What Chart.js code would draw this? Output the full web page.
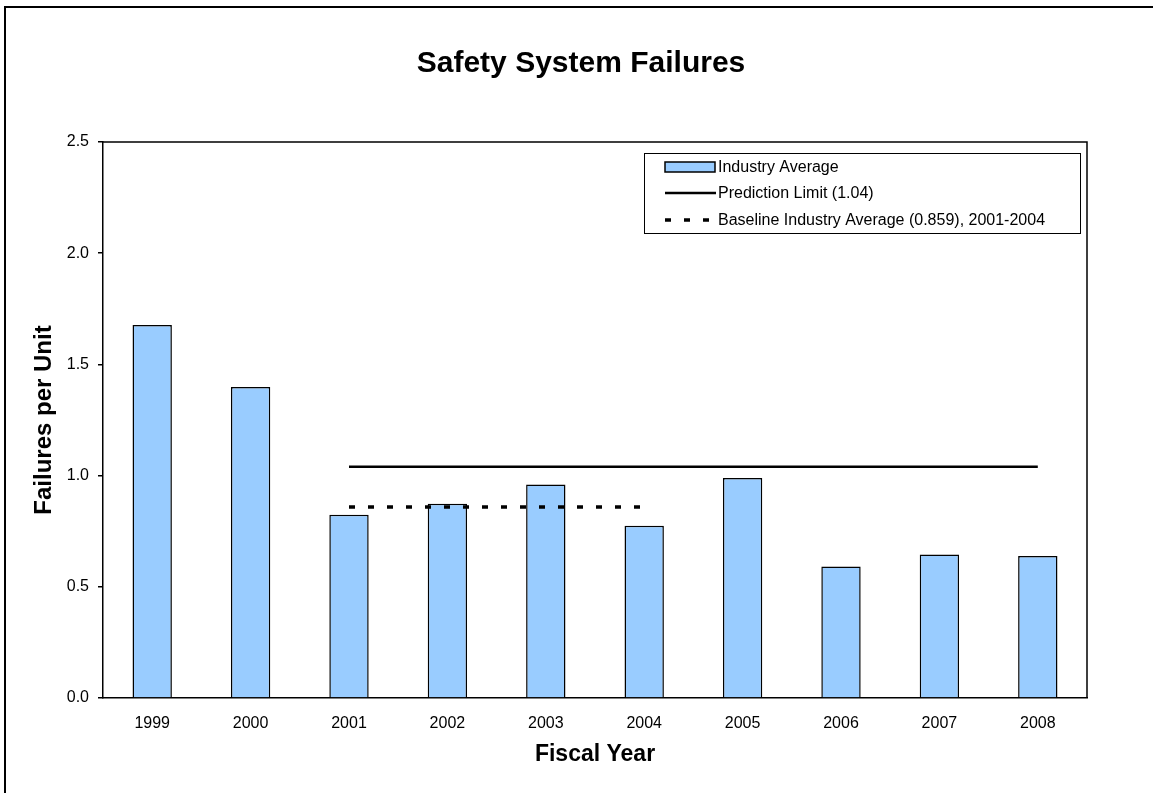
<!DOCTYPE html>
<html>
<head>
<meta charset="utf-8">
<title>Safety System Failures</title>
<script src="https://cdn.jsdelivr.net/npm/chart.js@4.4.1/dist/chart.umd.min.js"></script>
<style>
  html, body { margin: 0; padding: 0; background: #fff; }
  canvas { display: block; }
</style>
</head>
<body>
<canvas id="chart" width="1153" height="793"></canvas>
<script>
// data
const years = ['1999', '2000', '2001', '2002', '2003', '2004', '2005', '2006', '2007', '2008'];
const industryAverage = [1.677, 1.398, 0.824, 0.873, 0.960, 0.774, 0.989, 0.591, 0.645, 0.638];
const predictionLimit = [null, null, 1.04, 1.04, 1.04, 1.04, 1.04, 1.04, 1.04, 1.04];
const baselineAverage = [null, null, 0.859, 0.859, 0.859, 0.859, null, null, null, null];
const yTicks = [0, 0.5, 1.0, 1.5, 2.0, 2.5];

const FONT = "'Liberation Sans', Arial, sans-serif";

// outer frame, plot box and the boxed legend
const decorations = {
  id: 'decorations',
  beforeDraw(chart) {
    const ctx = chart.ctx;
    ctx.save();
    ctx.fillStyle = '#fff';
    ctx.fillRect(0, 0, chart.width, chart.height);
    ctx.strokeStyle = '#000';
    ctx.lineWidth = 2;
    ctx.beginPath();
    ctx.moveTo(5, chart.height);
    ctx.lineTo(5, 7);
    ctx.lineTo(chart.width, 7);
    ctx.stroke();
    ctx.restore();
  },
  afterDraw(chart) {
    const ctx = chart.ctx;
    const a = chart.chartArea;
    ctx.save();
    ctx.strokeStyle = '#000';
    ctx.lineWidth = 1.5;
    ctx.beginPath();
    ctx.moveTo(a.left, a.top);
    ctx.lineTo(a.right, a.top);
    ctx.lineTo(a.right, a.bottom);
    ctx.stroke();

    // legend
    const bx = 644, by = 153, bw = 436, bh = 80;
    ctx.fillStyle = '#fff';
    ctx.fillRect(bx, by, bw, bh);
    ctx.lineWidth = 1;
    ctx.strokeRect(bx + 0.5, by + 0.5, bw, bh);
    const rows = [167, 193, 220];
    const ds = chart.data.datasets;
    ctx.font = '16px ' + FONT;
    ctx.textBaseline = 'middle';
    ctx.textAlign = 'left';
    ds.forEach((d, i) => {
      const y = rows[i];
      if (d.type === 'bar' || !d.type) {
        ctx.fillStyle = d.backgroundColor;
        ctx.fillRect(665, y - 5, 50, 10);
        ctx.lineWidth = 1.5;
        ctx.strokeStyle = d.borderColor;
        ctx.strokeRect(665, y - 5, 50, 10);
      } else {
        ctx.strokeStyle = d.borderColor;
        ctx.lineWidth = d.borderWidth;
        ctx.setLineDash(d.borderDash || []);
        ctx.beginPath();
        ctx.moveTo(665, y);
        ctx.lineTo(716, y);
        ctx.stroke();
        ctx.setLineDash([]);
      }
      ctx.fillStyle = '#000';
      ctx.fillText(d.label, 718, y + 1);
    });
    ctx.restore();
  }
};

new Chart(document.getElementById('chart'), {
  type: 'bar',
  data: {
    labels: years,
    datasets: [
      {
        type: 'bar',
        label: 'Industry Average',
        data: industryAverage,
        backgroundColor: '#99ccff',
        borderColor: '#000',
        borderWidth: 1.5,
        categoryPercentage: 1,
        barPercentage: 0.4,
        order: 3
      },
      {
        type: 'line',
        label: 'Prediction Limit (1.04)',
        data: predictionLimit,
        borderColor: '#000',
        borderWidth: 2.5,
        pointRadius: 0,
        fill: false,
        order: 2
      },
      {
        type: 'line',
        label: 'Baseline Industry Average (0.859), 2001-2004',
        data: baselineAverage,
        borderColor: '#000',
        borderWidth: 3.5,
        borderDash: [6, 13],
        pointRadius: 0,
        fill: false,
        order: 1
      }
    ]
  },
  options: {
    responsive: false,
    devicePixelRatio: 1,
    animation: false,
    layout: { padding: { left: 9, right: 0, top: 0, bottom: 0 } },
    plugins: {
      legend: { display: false },
      tooltip: { enabled: false },
      title: {
        display: true,
        text: 'Safety System Failures',
        color: '#000',
        font: { family: FONT, size: 30, weight: 'bold' },
        padding: { top: 46, bottom: 60 }
      }
    },
    scales: {
      x: {
        grid: { display: true, drawOnChartArea: false, drawTicks: false },
        border: { display: true, color: '#000', width: 1.5 },
        ticks: { color: '#000', font: { family: FONT, size: 16 }, padding: 16, maxRotation: 0 },
        title: {
          display: true,
          text: 'Fiscal Year',
          color: '#000',
          font: { family: FONT, size: 23, weight: 'bold' },
          padding: { top: 0, bottom: 25 }
        },
        afterFit(scale) { scale.height = 95; }
      },
      y: {
        min: 0,
        max: 2.5,
        afterBuildTicks(scale) { scale.ticks = yTicks.map(v => ({ value: v })); },
        grid: { drawOnChartArea: false, drawTicks: true, tickLength: 5, color: '#000', lineWidth: 1.5 },
        border: { display: true, color: '#000', width: 1.5 },
        ticks: {
          color: '#000',
          font: { family: FONT, size: 16 },
          padding: 9,
          callback(v) { return Number(v).toFixed(1); }
        },
        title: {
          display: true,
          text: 'Failures per Unit',
          color: '#000',
          font: { family: FONT, size: 24, weight: 'bold' },
          padding: { top: 21, bottom: 0 }
        },
        afterFit(scale) { scale.width = 94; }
      },
      // empty right-hand gutter so the title centres on the whole page
      yRight: {
        position: 'right',
        display: true,
        grid: { display: false },
        border: { display: false },
        ticks: { display: false },
        afterFit(scale) { scale.width = 66; }
      }
    }
  },
  plugins: [decorations]
});
</script>
</body>
</html>
